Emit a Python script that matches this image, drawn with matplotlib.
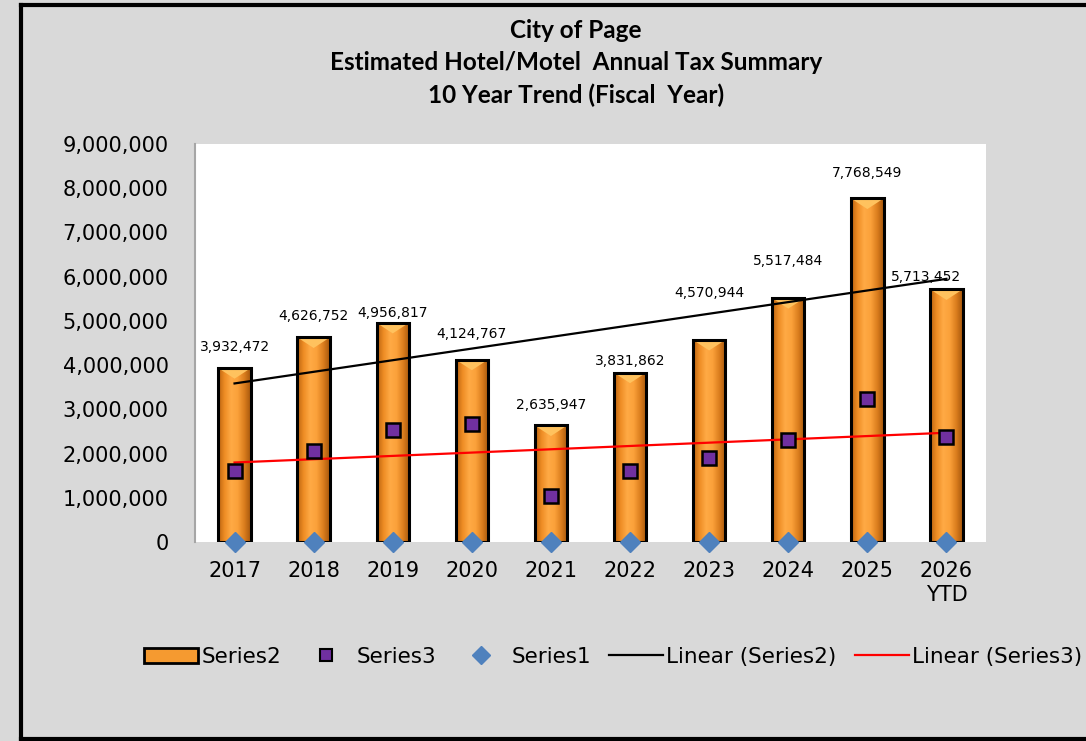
"""
City of Page hotel/motel tax summary: 10 year bar chart with linear trendlines.
"""

import numpy as np
import matplotlib
matplotlib.use("Agg")
import matplotlib.pyplot as plt
from matplotlib.colors import LinearSegmentedColormap
from matplotlib.patches import Patch, Polygon
from matplotlib.lines import Line2D
from matplotlib.ticker import FuncFormatter

years = ["2017", "2018", "2019", "2020", "2021", "2022", "2023", "2024", "2025", "2026\nYTD"]
series2 = [3932472, 4626752, 4956817, 4124767, 2635947, 3831862, 4570944, 5517484, 7768549, 5713452]
series3 = [1610000, 2060000, 2530000, 2670000, 1040000, 1600000, 1900000, 2310000, 3240000, 2380000]
series1 = [0, 0, 0, 0, 0, 0, 0, 0, 0, 0]
title_lines = ["City of Page", "Estimated Hotel/Motel  Annual Tax Summary", "10 Year Trend (Fiscal  Year)"]

# label nudges in pixels (Excel labels were moved by hand)
label_dx = [0, 0, 0, 0, 0, 0, 0, 0, 0, -20]
label_dy = [21, 21, 10, 26, 20, 12, 47, 37, 25, 12]

BG = "#D9D9D9"

fig = plt.figure(figsize=(10.86, 7.41), dpi=100, facecolor=BG)
ax = fig.add_axes([195 / 1086, 1 - 542 / 741, 791 / 1086, 398 / 741])
ax.set_facecolor("white")

x = np.arange(len(years))
bars = ax.bar(x, series2, width=0.41, facecolor="none", edgecolor="black", linewidth=2.2, zorder=3)

# fake the cylinder shading with a clipped horizontal gradient
cmap = LinearSegmentedColormap.from_list(
    "bar", ["#B9620F", "#EE8D25", "#FFAA45", "#FBA13A", "#DB7E1E", "#A5560C"])
grad = np.linspace(0, 1, 128).reshape(1, -1)
for rect in bars:
    x0, w, h = rect.get_x(), rect.get_width(), rect.get_height()
    im = ax.imshow(grad, extent=[x0, x0 + w, 0, h], aspect="auto", cmap=cmap, zorder=2)
    im.set_clip_path(rect)
    bevel = Polygon([(x0, h), (x0 + w, h), (x0 + w * 0.5, h - 0.24e6)], closed=True,
                    facecolor="#FFC25E", edgecolor="none", zorder=2.5)
    ax.add_patch(bevel)
    bevel.set_clip_path(rect)

# linear trendlines fitted over the category index
for vals, col in [(series2, "black"), (series3, "#FF0000")]:
    k, b = np.polyfit(x, vals, 1)
    ax.plot(x, k * x + b, color=col, linewidth=1.6, zorder=4)

ax.plot(x, series3, linestyle="none", marker="s", markersize=10, markerfacecolor="#7030A0",
        markeredgecolor="black", markeredgewidth=1.8, zorder=5)
ax.plot(x, series1, linestyle="none", marker="D", markersize=10.5, markerfacecolor="#4F81BD",
        markeredgecolor="#4F81BD", zorder=5, clip_on=False)

for i, rect in enumerate(bars):
    ax.annotate(f"{series2[i]:,}", (rect.get_x() + rect.get_width() / 2, series2[i]),
                xytext=(label_dx[i], label_dy[i]), textcoords="offset pixels",
                ha="center", va="center", fontsize=10, zorder=6)

ax.set_xlim(-0.5, len(years) - 0.5)
ax.set_ylim(0, 9000000)
ax.set_yticks(np.arange(0, 9000001, 1000000))
ax.yaxis.set_major_formatter(FuncFormatter(lambda v, p: f"{int(v):,}"))
ax.set_xticks(x)
ax.set_xticklabels(years)
ax.tick_params(axis="y", length=0, pad=19, labelsize=15)
ax.tick_params(axis="x", length=0, pad=14, labelsize=15)
for s in ["top", "right", "bottom"]:
    ax.spines[s].set_visible(False)
ax.spines["left"].set_color("#A6A6A6")
ax.spines["left"].set_linewidth(1.5)

for ty, line in zip([30, 62, 95], title_lines):
    fig.text(576 / 1086, 1 - ty / 741, line, ha="center", va="center",
             fontsize=17.5, fontweight="bold", family="Lato")

handles = [
    Patch(facecolor="#F59A30", edgecolor="black", linewidth=2),
    Line2D([], [], linestyle="none", marker="s", markersize=9, markerfacecolor="#7030A0",
           markeredgecolor="black", markeredgewidth=1.5),
    Line2D([], [], linestyle="none", marker="D", markersize=9, markerfacecolor="#4F81BD",
           markeredgecolor="#4F81BD"),
    Line2D([], [], color="black", linewidth=1.6),
    Line2D([], [], color="#FF0000", linewidth=1.6),
]
labels = ["Series2", "Series3", "Series1", "Linear (Series2)", "Linear (Series3)"]
fig.legend(handles, labels, loc="center", bbox_to_anchor=(613 / 1086, 1 - 657 / 741),
           ncol=5, frameon=False, fontsize=15.5, handlelength=2.5, handletextpad=0.15,
           columnspacing=0.85)

# outer chart border (right edge runs off the picture)
lw = 3
fig.add_artist(Line2D([21 / 1086, 21 / 1086], [1 - 5 / 741, 1 - 739 / 741], color="black", linewidth=lw))
fig.add_artist(Line2D([21 / 1086, 1.0], [1 - 5 / 741, 1 - 5 / 741], color="black", linewidth=lw))
fig.add_artist(Line2D([21 / 1086, 1.0], [1 - 739 / 741, 1 - 739 / 741], color="black", linewidth=lw))

fig.savefig("out.png", dpi=100, facecolor=BG)
